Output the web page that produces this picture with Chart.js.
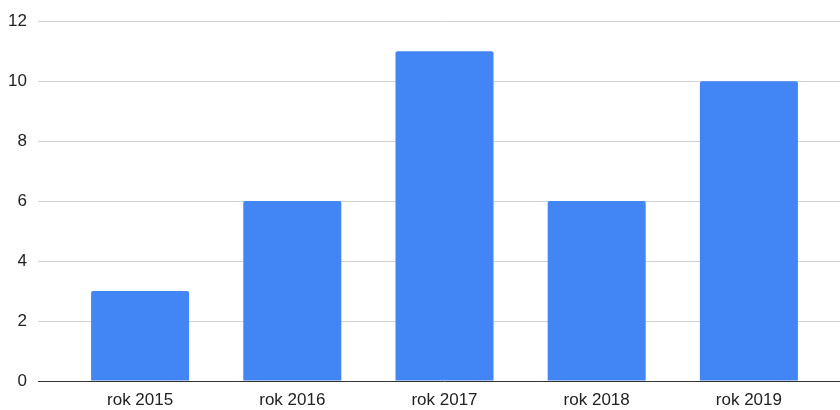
<!DOCTYPE html>
<html>
<head>
<meta charset="utf-8">
<script src="https://cdn.jsdelivr.net/npm/chart.js@4"></script>
<style>
  html, body { margin: 0; padding: 0; background: #fff; }
  #wrap { width: 840px; height: 410px; }
</style>
</head>
<body>
<div id="wrap"><canvas id="myChart"></canvas></div>
<script>
const categories = ['rok 2015', 'rok 2016', 'rok 2017', 'rok 2018', 'rok 2019'];
const values = [3, 6, 11, 6, 10];
const yTicks = [0, 2, 4, 6, 8, 10, 12];

const gridColor = (c) => (c.tick && c.tick.value === 0) ? '#333333' : '#d3d3d3';

const ctx = document.getElementById('myChart');

new Chart(ctx, {
  type: 'bar',
  data: {
    labels: categories,
    datasets: [{
      label: 'Wartość',
      data: values,
      backgroundColor: '#4285F4',
      borderRadius: { topLeft: 2, topRight: 2 },
      borderSkipped: 'bottom',
      categoryPercentage: 1,
      barPercentage: 0.644
    }]
  },
  options: {
    responsive: true,
    maintainAspectRatio: false,
    animation: false,
    layout: { padding: { top: 20, left: 0, right: 0, bottom: 0 } },
    plugins: {
      legend: { display: false },
      tooltip: { enabled: false }
    },
    scales: {
      x: {
        grid: { display: false, drawTicks: false },
        border: { display: false },
        ticks: {
          color: '#222',
          font: { family: 'Arial, "Liberation Sans"', size: 17 },
          padding: 9
        },
        afterFit: (s) => { s.height = 29; }
      },
      y: {
        min: 0,
        max: 12,
        afterBuildTicks: (s) => { s.ticks = yTicks.map(v => ({ value: v })); },
        grid: { color: gridColor, tickColor: gridColor, tickLength: 26, lineWidth: 1 },
        border: { display: false },
        ticks: {
          color: '#222',
          font: { family: 'Arial, "Liberation Sans"', size: 17 },
          padding: 11
        },
        afterFit: (s) => { s.width = 64; }
      },
      y2: {
        position: 'right',
        min: 0,
        max: 12,
        afterBuildTicks: (s) => { s.ticks = yTicks.map(v => ({ value: v })); },
        grid: { drawOnChartArea: false, color: gridColor, tickColor: gridColor, tickLength: 15 },
        border: { display: false },
        ticks: { display: false },
        afterFit: (s) => { s.width = 15; }
      }
    }
  }
});
</script>
</body>
</html>
